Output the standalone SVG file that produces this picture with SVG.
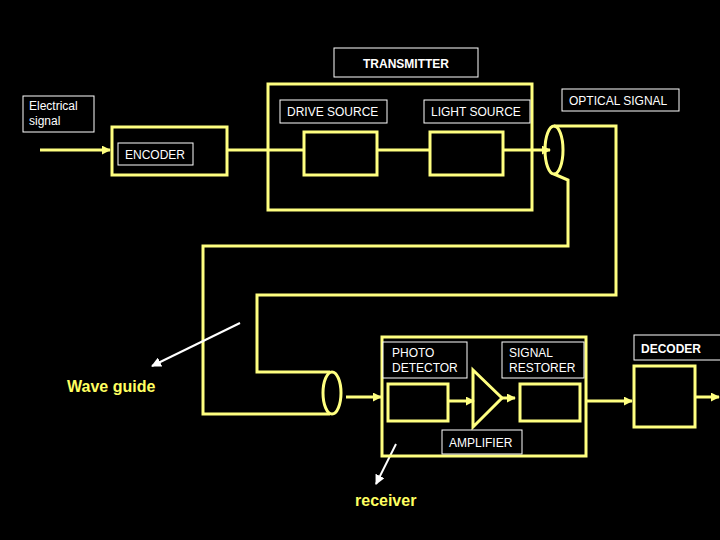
<svg xmlns="http://www.w3.org/2000/svg" width="720" height="540" viewBox="0 0 720 540">
<defs>
<style>
.y{fill:none;stroke:#ffff80;stroke-width:3}
.lb{fill:#000;stroke:#fff;stroke-width:1}
.t{fill:#fff;font-family:"Liberation Sans",Arial,sans-serif;font-size:12px}
.b{font-weight:bold}
.w{fill:#ffff60;font-family:"Liberation Sans",Arial,sans-serif;font-size:16px;font-weight:bold}
</style>
<marker id="a" viewBox="0 0 10 10" refX="9" refY="5" markerWidth="3" markerHeight="3" orient="auto"><path d="M0,0L10,5L0,10z" fill="#ffff80"/></marker>
<marker id="wa" viewBox="0 0 10 10" refX="9" refY="5" markerWidth="5" markerHeight="5" orient="auto"><path d="M0,0L10,5L0,10z" fill="#fff"/></marker>
</defs>
<rect width="720" height="540" fill="#000"/>
<g id="connectors">
<path class="y" d="M40,150H110" marker-end="url(#a)"/>
<path class="y" d="M227,150H304M377,150H430"/>
<path class="y" d="M503,150H550" marker-end="url(#a)"/>
<path class="y" d="M554,126H616V295H257V372H330"/>
<path class="y" d="M554,174L568,180V246H203V414H330"/>
<path class="y" d="M346,397H381" marker-end="url(#a)"/>
<path class="y" d="M448,401H474" marker-end="url(#a)"/>
<path class="y" d="M502,398H515" marker-end="url(#a)"/>
<path class="y" d="M586,401H632" marker-end="url(#a)"/>
<path class="y" d="M695,397H719" marker-end="url(#a)"/>
<path d="M240,323L152,366" stroke="#fff" stroke-width="2" marker-end="url(#wa)"/>
<path d="M396,444L376,484" stroke="#fff" stroke-width="2" marker-end="url(#wa)"/>
</g>
<g id="transmitter"><rect class="lb" x="334" y="48" width="144" height="29"/><text class="t b" x="406" y="68" font-size="16" text-anchor="middle">TRANSMITTER</text><rect class="y" x="268" y="84" width="264" height="126"/></g>
<g id="electrical"><rect class="lb" x="23" y="96" width="71" height="36"/><text class="t" x="29" y="110">Electrical</text><text class="t" x="29" y="125">signal</text></g>
<g id="encoder"><rect class="y" x="112" y="127" width="115" height="48"/><rect class="lb" x="118" y="143" width="75" height="22"/><text class="t" x="125" y="159">ENCODER</text></g>
<g id="drive"><rect class="lb" x="280" y="100" width="107" height="23"/><text class="t" x="287" y="116">DRIVE SOURCE</text><rect class="y" x="304" y="132" width="73" height="43"/></g>
<g id="light"><rect class="lb" x="424" y="100" width="106" height="23"/><text class="t" x="431" y="116">LIGHT SOURCE</text><rect class="y" x="430" y="132" width="73" height="43"/></g>
<g id="optical"><rect class="lb" x="562" y="89" width="117" height="22"/><text class="t" x="569" y="105">OPTICAL SIGNAL</text><ellipse class="y" cx="554" cy="150" rx="9" ry="24"/></g>
<g id="rxend"><ellipse class="y" cx="332" cy="393" rx="9" ry="21"/></g>
<g id="receiver"><rect class="y" x="382" y="337" width="204" height="119"/></g>
<g id="photo"><rect class="lb" x="383" y="342" width="84" height="36"/><text class="t" x="392" y="357">PHOTO</text><text class="t" x="392" y="372">DETECTOR</text><rect class="y" x="388" y="384" width="60" height="37"/></g>
<g id="amp"><path class="y" d="M473,370L502,398L473,427Z"/><rect class="lb" x="442" y="430" width="80" height="24"/><text class="t" x="449" y="447">AMPLIFIER</text></g>
<g id="restorer"><rect class="lb" x="502" y="342" width="82" height="36"/><text class="t" x="509" y="357">SIGNAL</text><text class="t" x="509" y="372">RESTORER</text><rect class="y" x="520" y="384" width="60" height="37"/></g>
<g id="decoder"><rect class="lb" x="634" y="335" width="90" height="25"/><text class="t b" x="641" y="353" font-size="13">DECODER</text><rect class="y" x="634" y="366" width="61" height="61"/></g>
<text class="w" x="67" y="392">Wave guide</text>
<text class="w" x="355" y="506">receiver</text>
</svg>
